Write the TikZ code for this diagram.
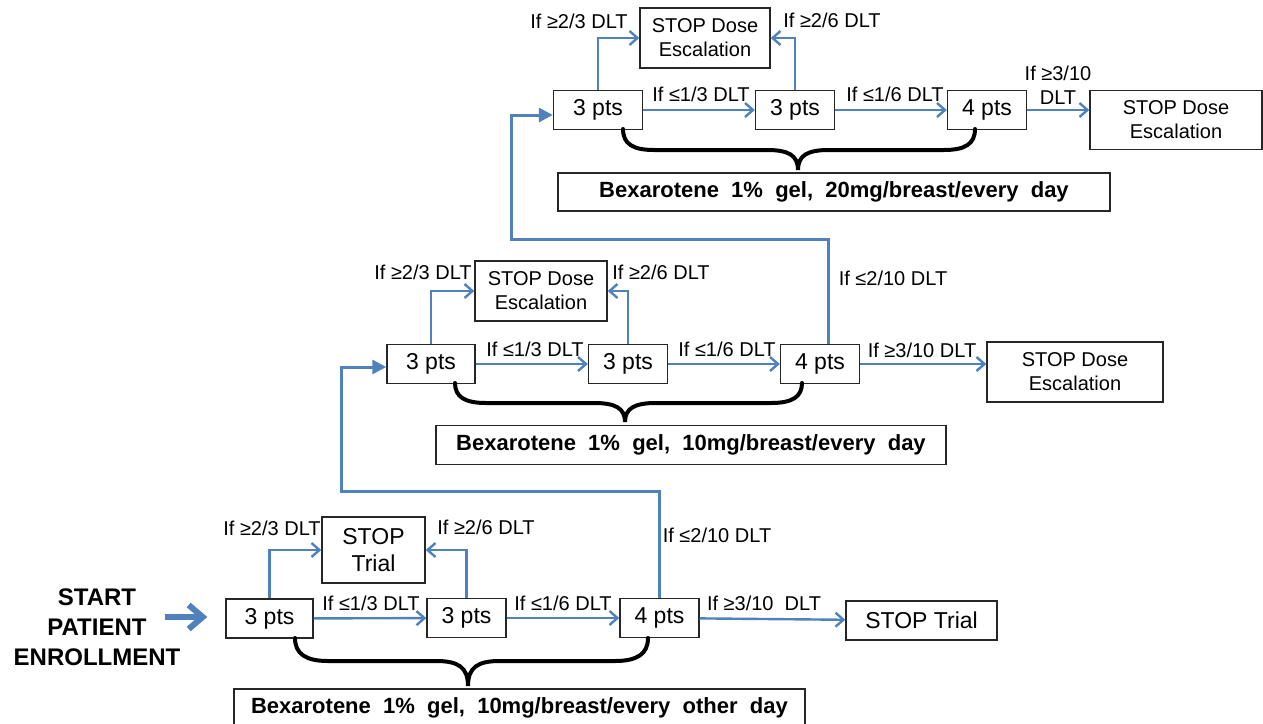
\documentclass[tikz,border=0pt]{standalone}
\usepackage{fontspec}
\setmainfont{Liberation Sans}
\newfontfamily\bexfont{Liberation Sans}[WordSpace=2]
\usetikzlibrary{arrows.meta,calc}
\definecolor{lnblue}{HTML}{4F81BD}
\begin{document}
\begin{tikzpicture}[x=0.5pt,y=-0.5pt,
 box/.style={draw=black!85, line width=0.7pt, inner sep=0pt, align=center, font=\fontsize{11.5}{13.5}\selectfont},
 pts/.style={box, minimum width=39.5pt, minimum height=19.5pt},
 stopbox/.style={box, font=\fontsize{10}{12}\selectfont},
 bex/.style={box, font=\bexfont\bfseries\fontsize{11}{13}\selectfont},
 lbl/.style={inner sep=0pt, align=center, font=\fontsize{10}{12}\selectfont},
 conn/.style={draw=lnblue, line width=1.2pt, -{Straight Barb[length=4pt,width=7pt]}},
 feed/.style={draw=lnblue, line width=1.5pt, -{Triangle[length=7pt,width=7pt]}},
 bigarrow/.style={draw=lnblue, line width=3pt, -{Straight Barb[length=7pt,width=12pt]}},
 brace/.style={draw=black, line width=2pt, line cap=round}]
\useasboundingbox (0,0) rectangle (1263,723);

% ---------- bottom tier ----------
\node[pts, minimum width=43.5pt] (A1) at (269.5,618.5) {3 pts};
\node[box, minimum width=51.5pt, minimum height=33pt] (S1) at (373.5,550) {STOP\\Trial};
\node[pts] (A2) at (466.5,618) {3 pts};
\node[pts] (A3) at (659.5,618) {4 pts};
\node[box, minimum width=75.5pt, minimum height=19.5pt] (S2) at (921.5,620.5) {STOP Trial};
\node[bex, minimum width=285.5pt, minimum height=19pt] (E1) at (519.5,708) {Bexarotene 1\% gel, 10mg/breast/every other day};
\node[inner sep=0pt, align=center, font=\bfseries\fontsize{12}{15}\selectfont] (start) at (97,627) {START\\PATIENT\\ENROLLMENT};
\coordinate (sa) at (165,617);
\draw[bigarrow, shorten >=9pt] (sa) -- (sa -| A1.west);

\draw[conn] (A1) -- (A2);
\draw[conn] (A2) -- (A3);
\draw[conn] (A3) -- (S2);
\draw[conn] (A1.north) |- (S1.west);
\draw[conn] (A2.north) |- (S1.east);

\node[lbl] (la1) at (272,528) {If ≥2/3 DLT};
\node[lbl] (la2) at (486,527) {If ≥2/6 DLT};
\node[lbl] (la3) at (371,603) {If ≤1/3 DLT};
\node[lbl] (la4) at (563,603) {If ≤1/6 DLT};
\node[lbl] (la5) at (764,603) {If ≥3/10\ \ DLT};
\node[lbl] (la6) at (717,535) {If ≤2/10 DLT};

\draw[brace] (295,638) .. controls (295,654) and (306,661) .. (328,661) -- (436,661)
  .. controls (458,661) and (468,667) .. (468,686)
  .. controls (468,667) and (478,661) .. (500,661) -- (615,661)
  .. controls (637,661) and (648,654) .. (648,638);

% ---------- middle tier ----------
\node[pts, minimum width=44pt] (B1) at (431,364) {3 pts};
\node[stopbox, minimum width=66pt, minimum height=30pt] (SB) at (541,291) {STOP Dose\\Escalation};
\node[pts] (B2) at (628,364) {3 pts};
\node[pts] (B3) at (820,364) {4 pts};
\node[stopbox, minimum width=88pt, minimum height=30pt] (SB2) at (1075,372) {STOP Dose\\Escalation};
\node[bex, minimum width=255pt, minimum height=19.5pt] (E2) at (691,445) {Bexarotene 1\% gel, 10mg/breast/every day};

\coordinate (j1) at (341,491);
\draw[feed] (A3.north) |- (j1) |- ($(B1.west)+(0,3)$);

\draw[conn] (B1) -- (B2);
\draw[conn] (B2) -- (B3);
\draw[conn] (B3.east) -- (B3.east -| SB2.west);
\draw[conn] (B1.north) |- (SB.west);
\draw[conn] (B2.north) |- (SB.east);

\node[lbl] (lb1) at (423,272) {If ≥2/3 DLT};
\node[lbl] (lb2) at (661,272) {If ≥2/6 DLT};
\node[lbl] (lb3) at (535,349) {If ≤1/3 DLT};
\node[lbl] (lb4) at (727,349) {If ≤1/6 DLT};
\node[lbl] (lb5) at (922,350) {If ≥3/10 DLT};
\node[lbl] (lb6) at (893,278) {If ≤2/10 DLT};

\draw[brace] (455,383) .. controls (455,397) and (465,403) .. (486,403) -- (594,403)
  .. controls (615,403) and (625,408) .. (625,422)
  .. controls (625,408) and (635,403) .. (656,403) -- (771,403)
  .. controls (792,403) and (802,397) .. (802,383);

% ---------- top tier ----------
\node[pts, minimum width=44.5pt] (C1) at (598,110) {3 pts};
\node[stopbox, minimum width=65pt, minimum height=30pt] (SC) at (705,38) {STOP Dose\\Escalation};
\node[pts] (C2) at (795,110) {3 pts};
\node[pts] (C3) at (987,110) {4 pts};
\node[stopbox, minimum width=86pt, minimum height=29.5pt] (SC2) at (1176,120) {STOP Dose\\Escalation};
\node[bex, minimum width=276pt, minimum height=19pt] (E3) at (834,192) {Bexarotene 1\% gel, 20mg/breast/every day};

\coordinate (j2) at (511,239);
\draw[feed] ($(B3.north)+(8,0)$) |- (j2) |- ($(C1.west)+(0,5)$);

\draw[conn] (C1) -- (C2);
\draw[conn] (C2) -- (C3);
\draw[conn] (C3.east) -- (C3.east -| SC2.west);
\draw[conn] (C1.north) |- (SC.west);
\draw[conn] (C2.north) |- (SC.east);

\node[lbl] (lc1) at (579,21) {If ≥2/3 DLT};
\node[lbl] (lc2) at (832,20) {If ≥2/6 DLT};
\node[lbl] (lc3) at (701,94) {If ≤1/3 DLT};
\node[lbl] (lc4) at (895,94) {If ≤1/6 DLT};
\node[lbl] (lc5) at (1058,85) {If ≥3/10\\DLT};

\draw[brace] (623,129) .. controls (623,144) and (633,150) .. (654,150) -- (767,150)
  .. controls (788,150) and (798,155) .. (798,170)
  .. controls (798,155) and (808,150) .. (829,150) -- (944,150)
  .. controls (965,150) and (975,144) .. (975,129);
\end{tikzpicture}
\end{document}
